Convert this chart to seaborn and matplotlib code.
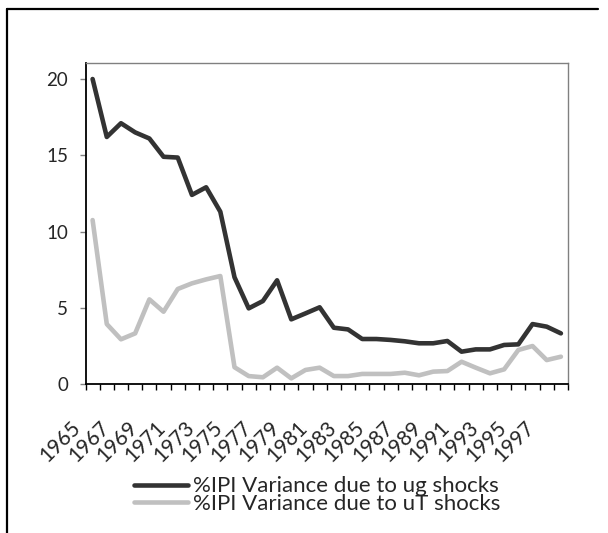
import numpy as np
import pandas as pd
import matplotlib
matplotlib.use("Agg")
import matplotlib.pyplot as plt
import matplotlib.transforms as mtransforms
from matplotlib.lines import Line2D
import seaborn as sns

# data
years = list(range(1965, 1999))
ug_share = [20.0, 16.2, 17.1, 16.5, 16.1, 14.9, 14.85, 12.4, 12.9, 11.3,
            7.0, 4.96, 5.44, 6.8, 4.24, 4.63, 5.03, 3.69, 3.58, 2.95,
            2.95, 2.89, 2.8, 2.67, 2.67, 2.82, 2.12, 2.27, 2.27, 2.56,
            2.6, 3.93, 3.76, 3.32]
ut_share = [10.75, 3.93, 2.93, 3.32, 5.55, 4.74, 6.23, 6.6, 6.86, 7.08,
            1.1, 0.52, 0.44, 1.07, 0.37, 0.92, 1.07, 0.52, 0.52, 0.66,
            0.66, 0.66, 0.74, 0.57, 0.81, 0.85, 1.46, 1.07, 0.7, 0.96,
            2.23, 2.49, 1.57, 1.79]
series_names = ["%IPI Variance due to ug shocks", "%IPI Variance due to uT shocks"]
series_colors = ["#333333", "#c0c0c0"]
y_ticks = [0, 5, 10, 15, 20]
label_years = years[::2]

df = pd.DataFrame({
    "year": years * 2,
    "value": ug_share + ut_share,
    "series": [series_names[0]] * len(years) + [series_names[1]] * len(years),
})

sns.set_theme(style="white")
plt.rcParams["font.family"] = ["Lato", "DejaVu Sans"]

W, H = 608, 533
fig = plt.figure(figsize=(W / 100, H / 100), dpi=100)
ax = fig.add_axes([85.5 / W, 1 - 384 / H, (568 - 85.5) / W, (384 - 63) / H])

sns.lineplot(data=df, x="year", y="value", hue="series", palette=series_colors,
             linewidth=3.3, ax=ax, legend=False)

ax.set_xlim(years[0] - 0.5, years[-1] + 0.5)
ax.set_ylim(0, 21.05)
ax.set_xlabel("")
ax.set_ylabel("")

# tick marks between categories, labels every other year
ax.set_xticks([y - 0.5 for y in years] + [years[-1] + 0.5])
ax.set_xticklabels([])
ax.set_xticks(label_years, minor=True)
ax.set_xticklabels([str(y) for y in label_years], minor=True)
ax.tick_params(axis="x", which="major", bottom=True, length=4.5, width=1, color="black", direction="out")
ax.tick_params(axis="x", which="minor", bottom=True, length=0, pad=29, labelsize=15)
offset = mtransforms.ScaledTranslation(-15 / 100, 0, fig.dpi_scale_trans)
for lab in ax.get_xticklabels(minor=True):
    lab.set_rotation(45)
    lab.set_ha("right")
    lab.set_va("center")
    lab.set_rotation_mode("anchor")
    lab.set_transform(lab.get_transform() + offset)

ax.set_yticks(y_ticks)
ax.tick_params(axis="y", left=True, length=4.5, width=1, color="#808080", direction="out", pad=8, labelsize=13.5)

for side in ["left", "bottom"]:
    ax.spines[side].set_color("black")
    ax.spines[side].set_linewidth(1.3)
for side in ["top", "right"]:
    ax.spines[side].set_color("#808080")
    ax.spines[side].set_linewidth(1.0)

handles = [Line2D([], [], color=c, linewidth=3.3) for c in series_colors]
fig.legend(handles, series_names, loc="center", bbox_to_anchor=(317.5 / W, 1 - 495 / H),
           frameon=False, fontsize=16, handlelength=2.4, handletextpad=0.25,
           labelspacing=-0.12, borderpad=0)

# outer chart border (left and top edges visible in the crop)
fig.add_artist(Line2D([6.5 / W, 6.5 / W], [0, 1 - 8.5 / H], transform=fig.transFigure, color="black", linewidth=1.6))
fig.add_artist(Line2D([6.5 / W, 598 / W], [1 - 8.5 / H, 1 - 8.5 / H], transform=fig.transFigure, color="black", linewidth=1.6))

fig.savefig("out.png", dpi=100)
